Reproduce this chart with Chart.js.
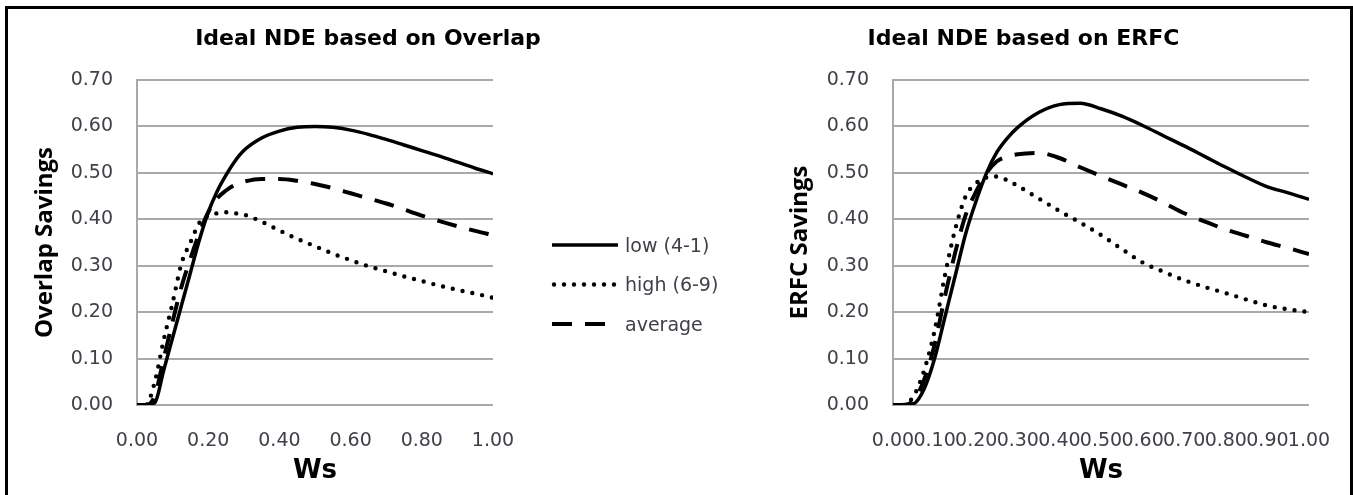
<!DOCTYPE html>
<html>
<head>
<meta charset="utf-8">
<script src="https://cdn.jsdelivr.net/npm/chart.js@4/dist/chart.umd.min.js"></script>
<style>
  html, body { margin: 0; padding: 0; background: #fff; }
  body { width: 1353px; height: 495px; position: relative; overflow: hidden; }
  .frame {
    position: absolute; left: 5px; top: 6px; width: 1342px; height: 500px;
    border-left: 3px solid #000; border-top: 3px solid #000; border-right: 3px solid #000;
  }
  canvas { position: absolute; top: 9px; }
  #overlapChart { left: 8px; }
  #erfcChart { left: 738px; }
</style>
</head>
<body>
<div class="frame"></div>
<canvas id="overlapChart" width="720" height="486"></canvas>
<canvas id="erfcChart" width="612" height="486"></canvas>
<script>
/* ---------------------------- DATA ---------------------------------- */
const wsSteps = [0, 0.025, 0.05, 0.075, 0.1, 0.125, 0.15, 0.175, 0.2, 0.225, 0.25, 0.275, 0.3,
  0.35, 0.4, 0.45, 0.5, 0.55, 0.6, 0.65, 0.7, 0.75, 0.8, 0.85, 0.9, 0.95, 1.0];

const overlapLow = [0, 0, 0.005, 0.075, 0.145, 0.215, 0.285, 0.355, 0.415, 0.46, 0.495, 0.525, 0.548,
  0.575, 0.59, 0.598, 0.6, 0.598, 0.592, 0.583, 0.572, 0.56, 0.548, 0.536, 0.523, 0.51, 0.498];
const overlapHigh = [0, 0, 0.05, 0.14, 0.22, 0.305, 0.35, 0.392, 0.408, 0.413, 0.415, 0.413, 0.41,
  0.395, 0.376, 0.358, 0.342, 0.326, 0.312, 0.299, 0.288, 0.277, 0.267, 0.257, 0.248, 0.24, 0.231];
const overlapAvg = [0, 0, 0.02, 0.1, 0.18, 0.255, 0.315, 0.37, 0.415, 0.445, 0.462, 0.474, 0.481,
  0.487, 0.487, 0.483, 0.476, 0.467, 0.456, 0.445, 0.434, 0.421, 0.408, 0.396, 0.385, 0.375, 0.366];

const erfcLow = [0, 0, 0.003, 0.035, 0.1, 0.19, 0.28, 0.37, 0.44, 0.5, 0.545, 0.575, 0.598,
  0.63, 0.647, 0.65, 0.638, 0.622, 0.602, 0.58, 0.558, 0.535, 0.512, 0.49, 0.47, 0.457, 0.443];
const erfcHigh = [0, 0, 0.02, 0.075, 0.16, 0.28, 0.38, 0.45, 0.478, 0.49, 0.492, 0.484, 0.472,
  0.445, 0.418, 0.393, 0.366, 0.336, 0.307, 0.287, 0.269, 0.254, 0.241, 0.227, 0.214, 0.206, 0.2];
const erfcAvg = [0, 0, 0.01, 0.055, 0.13, 0.235, 0.33, 0.41, 0.46, 0.5, 0.525, 0.535, 0.54,
  0.543, 0.532, 0.512, 0.493, 0.475, 0.457, 0.436, 0.413, 0.395, 0.378, 0.364, 0.35, 0.338, 0.325];

const seriesLabels = ["low (4-1)", "high (6-9)", "average"];
const yTicks = [0, 0.1, 0.2, 0.3, 0.4, 0.5, 0.6, 0.7];

(() => {
  const $ = (id) => document.getElementById(id);

  const TICK_COLOR = "#404048";
  const GRID_COLOR = "#a9a9a9";
  const TICK_FONT = { family: "'DejaVu Sans'", size: 19 };

  /* -------------------------- LINE STYLES ---------------------------- */
  // solid / round dots / long dash, like the Excel original
  const lineStyles = [
    { borderDash: [], borderWidth: 3.5, borderCapStyle: "butt" },
    { borderDash: [0, 10], borderWidth: 4.4, borderCapStyle: "round" },
    { borderDash: [20, 13], borderWidth: 4, borderCapStyle: "butt" },
  ];

  function makeDatasets(seriesList) {
    return seriesList.map((values, i) => ({
      label: seriesLabels[i],
      data: wsSteps.map((x, k) => ({ x, y: values[k] })),
      borderColor: "#000",
      backgroundColor: "#000",
      pointRadius: 0,
      cubicInterpolationMode: "monotone",
      fill: false,
      ...lineStyles[i],
    }));
  }

  /* -------------------------- LEGEND (custom) ------------------------ */
  const lineLegend = {
    id: "lineLegend",
    afterDraw(chart, args, opts) {
      if (!opts.show) return;
      const ctx = chart.ctx;
      ctx.save();
      chart.data.datasets.forEach((ds, i) => {
        const y = opts.top + i * opts.rowGap;
        ctx.beginPath();
        ctx.strokeStyle = ds.borderColor;
        ctx.lineWidth = ds.borderWidth;
        ctx.lineCap = ds.borderCapStyle;
        ctx.setLineDash(ds.borderDash);
        ctx.moveTo(opts.left + (ds.borderCapStyle === "round" ? 2 : 0), y);
        ctx.lineTo(opts.left + opts.sampleWidth, y);
        ctx.stroke();
        ctx.setLineDash([]);
        ctx.fillStyle = TICK_COLOR;
        ctx.font = "19px 'DejaVu Sans'";
        ctx.textBaseline = "middle";
        ctx.fillText(ds.label, opts.left + 67 + 6, y + 2);
      });
      ctx.restore();
    },
  };

  /* -------------------------- CHART BUILDER -------------------------- */
  function buildChart(canvasId, cfg) {
    const scales = {
      x: {
        type: "linear",
        min: 0,
        max: 1,
        grid: { display: false },
        border: { display: false },
        ticks: {
          stepSize: cfg.xStep,
          autoSkip: false,
          maxRotation: 0,
          minRotation: 0,
          padding: 17,
          color: TICK_COLOR,
          font: TICK_FONT,
          callback: (v) => v.toFixed(2),
        },
        title: {
          display: true,
          text: "Ws",
          color: "#000",
          font: { family: "'DejaVu Sans'", size: 26, weight: "bold" },
          padding: { top: 0, bottom: 8 },
        },
        afterFit: (s) => { s.height = 90; },
      },
      y: {
        type: "linear",
        min: 0,
        max: 0.7,
        grid: { color: GRID_COLOR, lineWidth: 2, drawTicks: false },
        border: { display: true, color: GRID_COLOR, width: 2 },
        afterBuildTicks: (s) => { s.ticks = yTicks.map((v) => ({ value: v })); },
        ticks: {
          padding: 24,
          color: TICK_COLOR,
          font: TICK_FONT,
          callback: (v) => v.toFixed(2),
        },
        title: {
          display: true,
          text: cfg.yTitle,
          color: "#000",
          font: { family: "'Open Sans'", size: 24, weight: "bold" },
          padding: { top: cfg.yTitlePad, bottom: 0 },
        },
        afterFit: (s) => { s.width = cfg.yWidth; },
      },
    };
    if (cfg.legendSpace) {
      // empty right-hand axis, only reserves room for the legend
      scales.yLegend = {
        type: "linear",
        position: "right",
        display: true,
        grid: { display: false },
        border: { display: false },
        ticks: { display: false },
        afterFit: (s) => { s.width = cfg.legendSpace; },
      };
    }

    return new Chart($(canvasId).getContext("2d"), {
      type: "line",
      data: { datasets: makeDatasets(cfg.series) },
      options: {
        responsive: false,
        animation: false,
        layout: { padding: { left: 0, right: cfg.padRight, top: 0, bottom: 0 } },
        plugins: {
          legend: { display: false },
          tooltip: { enabled: false },
          title: {
            display: true,
            text: cfg.title,
            color: "#000",
            font: { family: "'DejaVu Sans'", size: 22, weight: "bold" },
            padding: { top: 17, bottom: 27.6 },
          },
          lineLegend: cfg.legend || { show: false },
        },
        scales,
      },
      plugins: [lineLegend],
    });
  }

  buildChart("overlapChart", {
    title: "Ideal NDE based on Overlap",
    yTitle: "Overlap Savings",
    series: [overlapLow, overlapHigh, overlapAvg],
    xStep: 0.2,
    yWidth: 129,
    yTitlePad: 22.6,
    padRight: 0,
    legendSpace: 235,
    legend: { show: true, left: 544, top: 236, rowGap: 39.5, sampleWidth: 66 },
  });

  buildChart("erfcChart", {
    title: "Ideal NDE based on ERFC",
    yTitle: "ERFC Savings",
    series: [erfcLow, erfcHigh, erfcAvg],
    xStep: 0.1,
    yWidth: 155,
    yTitlePad: 47.6,
    padRight: 41,
  });
})();
</script>
</body>
</html>
